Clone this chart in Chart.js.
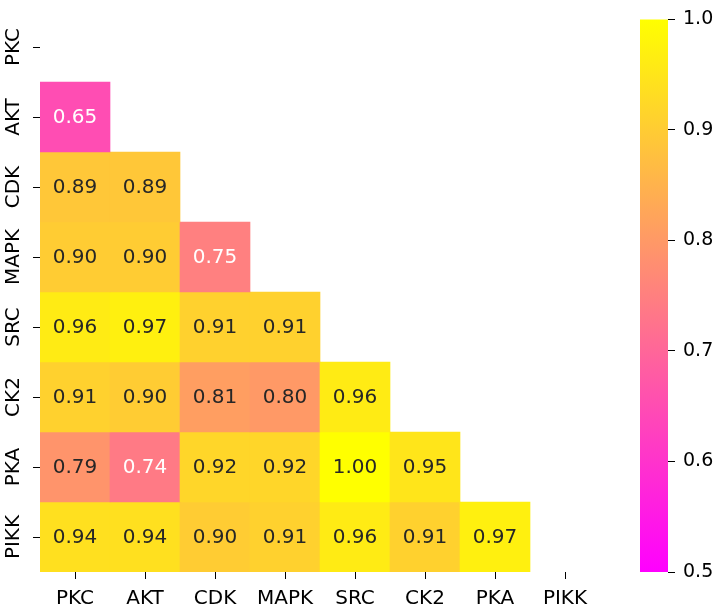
<!DOCTYPE html>
<html>
<head>
<meta charset="utf-8">
<script src="https://cdn.jsdelivr.net/npm/chart.js@4"></script>
<style>
    body { margin: 0; background: #fff; }
    #wrap { position: relative; width: 721px; height: 610px; }
    #heatmap { position: absolute; left: 0; top: 0; }
    #colorbar { position: absolute; left: 620px; top: 0; }
</style>
</head>
<body>
<div id="wrap">
    <canvas id="heatmap" width="620" height="610"></canvas>
    <canvas id="colorbar" width="101" height="610"></canvas>
</div>
<script>
// Kinase groups (rows and columns)
const kinases = ['PKC', 'AKT', 'CDK', 'MAPK', 'SRC', 'CK2', 'PKA', 'PIKK'];

// Lower-triangle correlation values, one array per row (columns PKC ... )
const rowPKC = [];
const rowAKT = [0.65];
const rowCDK = [0.89, 0.89];
const rowMAPK = [0.90, 0.90, 0.75];
const rowSRC = [0.96, 0.97, 0.91, 0.91];
const rowCK2 = [0.91, 0.90, 0.81, 0.80, 0.96];
const rowPKA = [0.79, 0.74, 0.92, 0.92, 1.00, 0.95];
const rowPIKK = [0.94, 0.94, 0.90, 0.91, 0.96, 0.91, 0.97];
const rows = [rowPKC, rowAKT, rowCDK, rowMAPK, rowSRC, rowCK2, rowPKA, rowPIKK];

// Colour scale range
const vmin = 0.5;
const vmax = 1.0;
const cbarTicks = [0.5, 0.6, 0.7, 0.8, 0.9, 1.0];

const FONT = 'DejaVu Sans';
const FONT_SIZE = 20;
const CBAR_FONT_SIZE = 19;

// matplotlib "spring": r = 1, g = t, b = 1 - t
function springRGB(v) {
    let t = (v - vmin) / (vmax - vmin);
    t = Math.max(0, Math.min(1, t));
    return [255, Math.round(255 * t), Math.round(255 * (1 - t))];
}
function springColor(v) {
    const c = springRGB(v);
    return `rgb(${c[0]}, ${c[1]}, ${c[2]})`;
}

// same rule seaborn uses to pick annotation colour
function textColorFor(v) {
    const lin = springRGB(v).map(c => {
        c = c / 255;
        return c <= 0.03928 ? c / 12.92 : Math.pow((c + 0.055) / 1.055, 2.4);
    });
    const lum = 0.2126 * lin[0] + 0.7152 * lin[1] + 0.0722 * lin[2];
    return lum > 0.408 ? '#262626' : '#ffffff';
}

// one floating-bar dataset per row
const datasets = rows.map((vals, r) => ({
    label: kinases[r],
    data: kinases.map((k, c) => (c < vals.length ? [r - 0.5, r + 0.5] : null)),
    values: kinases.map((k, c) => (c < vals.length ? vals[c] : null)),
    backgroundColor: kinases.map((k, c) => (c < vals.length ? springColor(vals[c]) : 'rgba(0,0,0,0)')),
    borderWidth: 0,
    barPercentage: 1.0,
    categoryPercentage: 1.0,
    grouped: false
}));

// write the value in the middle of each cell
const annotatePlugin = {
    id: 'annotate',
    afterDatasetsDraw(chart) {
        const ctx = chart.ctx;
        ctx.save();
        ctx.font = `${FONT_SIZE}px "${FONT}"`;
        ctx.textAlign = 'center';
        ctx.textBaseline = 'middle';
        chart.data.datasets.forEach((ds, d) => {
            const meta = chart.getDatasetMeta(d);
            meta.data.forEach((bar, i) => {
                const v = ds.values[i];
                if (v === null) return;
                const cy = (bar.y + bar.base) / 2;
                ctx.fillStyle = textColorFor(v);
                ctx.fillText(v.toFixed(2), bar.x, cy + 1);
            });
        });
        ctx.restore();
    }
};

// vertical row labels on the left
const rowLabelPlugin = {
    id: 'rowLabels',
    afterDraw(chart) {
        const ctx = chart.ctx;
        const yScale = chart.scales.y;
        ctx.save();
        ctx.font = `${FONT_SIZE}px "${FONT}"`;
        ctx.fillStyle = '#000';
        ctx.textAlign = 'center';
        ctx.textBaseline = 'alphabetic';
        kinases.forEach((k, i) => {
            const y = yScale.getPixelForValue(i);
            ctx.save();
            ctx.translate(19, y);
            ctx.rotate(-Math.PI / 2);
            ctx.fillText(k, 0, 0);
            ctx.restore();
        });
        ctx.restore();
    }
};

new Chart(document.getElementById('heatmap').getContext('2d'), {
    type: 'bar',
    data: {
        labels: kinases,
        datasets: datasets
    },
    options: {
        responsive: false,
        animation: false,
        layout: { padding: { top: 12, right: 20, left: 0, bottom: 0 } },
        plugins: {
            legend: { display: false },
            tooltip: { enabled: false }
        },
        scales: {
            x: {
                offset: true,
                grid: { display: true, offset: false, drawOnChartArea: false, tickLength: 7, color: '#000', lineWidth: 1 },
                border: { display: false },
                ticks: { color: '#000', padding: 8, maxRotation: 0, font: { family: FONT, size: FONT_SIZE } },
                afterFit(scale) { scale.height = 38; }
            },
            y: {
                type: 'linear',
                reverse: true,
                min: -0.5,
                max: 7.5,
                afterBuildTicks(scale) {
                    scale.ticks = kinases.map((k, i) => ({ value: i }));
                },
                grid: { display: true, drawOnChartArea: false, tickLength: 7, color: '#000', lineWidth: 1 },
                border: { display: false },
                ticks: { display: false },
                afterFit(scale) { scale.width = 40; }
            }
        }
    },
    plugins: [annotatePlugin, rowLabelPlugin]
});

// colour bar
new Chart(document.getElementById('colorbar').getContext('2d'), {
    type: 'bar',
    data: {
        labels: [''],
        datasets: [{
            data: [[vmin, vmax]],
            backgroundColor(context) {
                const area = context.chart.chartArea;
                if (!area) return springColor(vmax);
                const g = context.chart.ctx.createLinearGradient(0, area.bottom, 0, area.top);
                g.addColorStop(0, springColor(vmin));
                g.addColorStop(1, springColor(vmax));
                return g;
            },
            borderWidth: 0,
            barPercentage: 1.0,
            categoryPercentage: 1.0
        }]
    },
    options: {
        responsive: false,
        animation: false,
        layout: { padding: { top: 12, bottom: 38, left: 20, right: 0 } },
        plugins: {
            legend: { display: false },
            tooltip: { enabled: false }
        },
        scales: {
            x: { display: false },
            y: {
                position: 'right',
                min: vmin,
                max: vmax,
                afterBuildTicks(scale) {
                    scale.ticks = cbarTicks.map(v => ({ value: v }));
                },
                grid: { display: true, drawOnChartArea: false, tickLength: 7, color: '#000', lineWidth: 1 },
                border: { display: false },
                ticks: {
                    color: '#000',
                    padding: 8,
                    font: { family: FONT, size: CBAR_FONT_SIZE },
                    callback: v => v.toFixed(1)
                },
                afterFit(scale) { scale.width = 53; }
            }
        }
    }
});
</script>
</body>
</html>
